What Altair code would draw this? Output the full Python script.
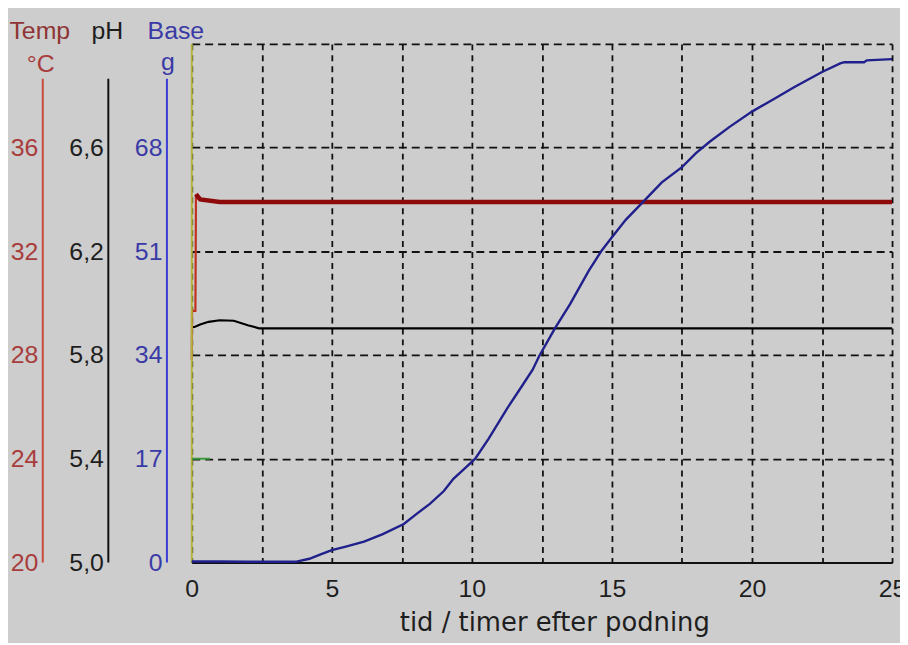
import altair as alt
import pandas as pd

# ---- data ----
# Base added (g) vs time (hours after inoculation)
BASE_T = [0, 1, 2, 3, 3.7, 4.2, 4.6, 5.0, 5.5, 6.15, 6.8, 7.57, 8.04, 8.5, 9.0, 9.34, 9.7,
          10.12, 10.6, 11.24, 11.8, 12.17, 12.4, 12.97, 13.5, 14.17, 14.63, 15.0, 15.5,
          16.07, 16.78, 17.5, 18.0, 18.5, 19.2, 20.0, 20.8, 21.5, 22.5, 23.15, 23.3, 24.0,
          24.1, 25.0]
BASE_G = [0.15, 0.15, 0.1, 0.1, 0.1, 0.6, 1.3, 2.0, 2.6, 3.4, 4.6, 6.3, 8.0, 9.6, 11.7, 13.7, 15.2,
          17.0, 20.3, 25.1, 29.0, 31.6, 33.8, 38.4, 42.3, 47.8, 51.1, 53.3, 56.2,
          58.9, 62.3, 64.8, 67.1, 69.0, 71.4, 73.9, 76.0, 77.9, 80.4, 81.8, 82.0, 82.0,
          82.3, 82.5]
# pH
PH_T = [0, 0.1, 0.3, 0.6, 1.0, 1.5, 2.0, 2.4, 3.0, 25.0]
PH_V = [5.908, 5.908, 5.918, 5.928, 5.934, 5.932, 5.915, 5.903, 5.903, 5.903]
# Temperature (deg C): start-up phase and steady phase
TEMP_RISE_T = [0, 0.01, 0.13, 0.15]
TEMP_RISE_V = [27.8, 29.7, 29.7, 34.2]
TEMP_T = [0.15, 0.3, 1.0, 25.0]
TEMP_V = [34.2, 34.0, 33.9, 33.9]
# short green set-point trace at 17 g
SET_T = [0, 0.65]
SET_G = [17, 17]

X_TICKS = [0, 2.5, 5, 7.5, 10, 12.5, 15, 17.5, 20, 22.5, 25]
BASE_TICKS = [0, 17, 34, 51, 68, 85]
PH_TICKS = [5.0, 5.4, 5.8, 6.2, 6.6]
TEMP_TICKS = [20, 24, 28, 32, 36]
HEADERS = ["Temp", "°C", "pH", "Base", "g"]
X_TITLE = "tid / timer efter podning"

# ---- styles ----
GREY = "#cdcdcd"
RED_TXT = "#a83c3c"
RED_AX = "#c84a3c"
TEMP_LINE = "#8e0a0a"
BLUE_TXT = "#3a3aa6"
BLUE_AX = "#3c3cd8"
BLUE_LINE = "#20208c"
INK = "#1e1e1e"
FONT = "Liberation Sans"

base_df = pd.DataFrame({"t": BASE_T, "v": BASE_G})
ph_df = pd.DataFrame({"t": PH_T, "v": PH_V})
temp_rise_df = pd.DataFrame({"t": TEMP_RISE_T, "v": TEMP_RISE_V})
temp_df = pd.DataFrame({"t": TEMP_T, "v": TEMP_V})
set_df = pd.DataFrame({"t": SET_T, "v": SET_G})
edge_df = pd.DataFrame({"t": [0], "v": [0], "v2": [85]})
one = pd.DataFrame({"a": [0]})

x_enc = alt.X(
    "t:Q",
    scale=alt.Scale(domain=[0, 25], nice=False, zero=False),
    axis=alt.Axis(
        values=X_TICKS,
        labelExpr="datum.value % 5 == 0 ? format(datum.value, 'd') : ''",
        grid=True, gridDash=[6, 5], gridColor="#111111", gridWidth=1.8, gridOpacity=1,
        ticks=False, tickSize=0,
        domainColor="#111111", domainWidth=2,
        labelFont=FONT, labelFontSize=25, labelColor=INK, labelPadding=14,
        labelFlush=False, labelOverlap=False,
        title=X_TITLE, titleFont="DejaVu Sans", titleFontSize=26, titleFontWeight="normal",
        titleColor=INK, titleX=365, titleY=69, titleBaseline="alphabetic", titleAlign="center",
    ),
)

y_base = alt.Y(
    "v:Q",
    scale=alt.Scale(domain=[0, 85], nice=False, zero=False),
    axis=alt.Axis(
        orient="left", offset=25, values=BASE_TICKS,
        labelExpr="datum.value == 85 ? '' : datum.label",
        grid=True, gridDash=[8, 5], gridColor="#111111", gridWidth=1.8, gridOpacity=1,
        domain=False, ticks=False, tickSize=0,
        labelFont=FONT, labelFontSize=25, labelColor=BLUE_TXT, labelPadding=5,
        labelBaseline="middle", labelFlush=False, labelOverlap=False, title=None,
    ),
)

y_temp = alt.Y(
    "v:Q",
    scale=alt.Scale(domain=[20, 40], nice=False, zero=False),
    axis=alt.Axis(
        orient="left", offset=150, values=TEMP_TICKS, grid=False,
        domain=False, ticks=False, tickSize=0,
        labelFont=FONT, labelFontSize=25, labelColor=RED_TXT, labelPadding=5,
        labelBaseline="middle", labelFlush=False, labelOverlap=False, title=None,
    ),
)

y_ph = alt.Y(
    "v:Q",
    scale=alt.Scale(domain=[5.0, 7.0], nice=False, zero=False),
    axis=alt.Axis(
        orient="left", offset=84, values=PH_TICKS, grid=False,
        labelExpr="replace(format(datum.value, '.1f'), '.', ',')",
        domain=False, ticks=False, tickSize=0,
        labelFont=FONT, labelFontSize=25, labelColor=INK, labelPadding=5,
        labelBaseline="middle", labelFlush=False, labelOverlap=False, title=None,
    ),
)

temp_rise = alt.Chart(temp_rise_df).mark_line(color="#c0301c", strokeWidth=2.2).encode(x=x_enc, y=y_temp)
temp_main = alt.Chart(temp_df).mark_line(color=TEMP_LINE, strokeWidth=4.5).encode(x=x_enc, y=y_temp)
temp_layer = alt.layer(temp_rise, temp_main)
ph_layer = alt.Chart(ph_df).mark_line(color="#000000", strokeWidth=2.2).encode(x=x_enc, y=y_ph)

base_line = alt.Chart(base_df).mark_line(color=BLUE_LINE, strokeWidth=2.4).encode(x=x_enc, y=y_base)
edge = alt.Chart(edge_df).mark_rule(color="#b4b43c", strokeWidth=2).encode(
    x=x_enc, y=y_base, y2="v2:Q")
setp = alt.Chart(set_df).mark_line(color="#3f9a3f", strokeWidth=2).encode(x=x_enc, y=y_base)
base_group = alt.layer(edge, setp, base_line)

# axis lines of the three left scales
ax_temp = alt.Chart(one).mark_rule(color=RED_AX, strokeWidth=2).encode(
    x=alt.value(-150), y=alt.value(35), y2=alt.value(522))
ax_ph = alt.Chart(one).mark_rule(color="#111111", strokeWidth=2).encode(
    x=alt.value(-84), y=alt.value(35), y2=alt.value(522))
ax_base = alt.Chart(one).mark_rule(color=BLUE_AX, strokeWidth=2).encode(
    x=alt.value(-25), y=alt.value(35), y2=alt.value(522))


def header(txt, x, y, color):
    return alt.Chart(one).mark_text(
        font=FONT, fontSize=25, color=color, align="center", baseline="alphabetic"
    ).encode(x=alt.value(x), y=alt.value(y), text=alt.value(txt))


heads = [
    header(HEADERS[0], -153, -5, "#8e3434"),
    header(HEADERS[1], -152, 28, RED_TXT),
    header(HEADERS[2], -85, -5, INK),
    header(HEADERS[3], -16, -5, BLUE_TXT),
    header(HEADERS[4], -24, 26, BLUE_TXT),
]

chart = alt.layer(
    ph_layer, temp_layer, base_group, ax_temp, ax_ph, ax_base, *heads
).resolve_scale(y="independent").resolve_axis(y="independent").properties(
    width=705, height=522,
    padding={"left": 185, "top": 34, "right": 8, "bottom": 79},
    autosize=alt.AutoSizeParams(type="none"),
    background=GREY,
).configure_view(stroke=None)

chart.save("out.html", embed_options={"renderer": "svg", "actions": False})
